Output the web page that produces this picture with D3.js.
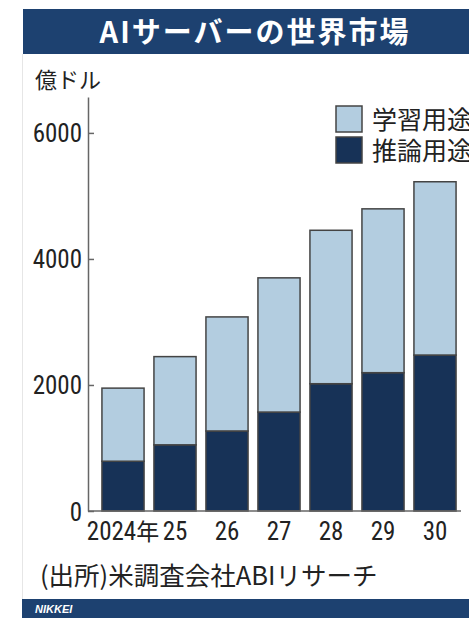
<!DOCTYPE html>
<html>
<head>
<meta charset="utf-8">
<script src="https://cdn.jsdelivr.net/npm/d3@7"></script>
<style>
  body { margin: 0; background: #fff; }
  svg { display: block; }
  .num { font-family: "Liberation Sans Narrow", "Roboto Condensed", "Liberation Sans", sans-serif; fill: #222; }
  .jp { font-family: "Noto Sans CJK JP", "Noto Sans", sans-serif; fill: #222; }
</style>
</head>
<body>
<svg class="chart" width="469" height="618"></svg>
<script>
const years = ["2024", "25", "26", "27", "28", "29", "30"]
const training = [1160, 1400, 1810, 2130, 2435, 2600, 2750]   // 学習用途
const inference = [790, 1050, 1270, 1570, 2020, 2195, 2475]   // 推論用途
const yTicks = [0, 2000, 4000, 6000]

const svg = d3.select("svg.chart")

// faint left border
svg.append("line")
  .attr("x1", 22.5).attr("x2", 22.5)
  .attr("y1", 54).attr("y2", 599)
  .attr("stroke", "#e6e6e6")

// title banner
svg.append("rect")
  .attr("x", 23).attr("y", 9)
  .attr("width", 446).attr("height", 45)
  .attr("fill", "#1d4170")

svg.append("text")
  .attr("class", "jp")
  .attr("x", 255).attr("y", 43)
  .attr("text-anchor", "middle")
  .style("font-size", "29px")
  .style("font-weight", "bold")
  .style("letter-spacing", "2px")
  .style("fill", "#fff")
  .text("AIサーバーの世界市場")

svg.append("text")
  .attr("class", "jp")
  .attr("x", 35).attr("y", 88)
  .style("font-size", "22px")
  .text("億ドル")

const x = d3.scaleBand()
  .domain(years)
  .range([97, 461])
  .paddingInner(0.19)
  .paddingOuter(0.095)

const y = d3.scaleLinear()
  .domain([0, 6570])
  .range([511, 97])

// y axis
const yAxis = svg.append("g")
  .attr("transform", "translate(88,0)")
  .call(d3.axisLeft(y).tickValues(yTicks).tickSizeInner(-6).tickSizeOuter(0).tickPadding(6).tickFormat(d3.format("d")))

yAxis.select(".domain").attr("stroke", "#666").attr("stroke-width", 1.5)
yAxis.selectAll(".tick line").attr("stroke", "#666").attr("stroke-width", 1.5)
yAxis.selectAll(".tick text")
  .attr("class", "num")
  .attr("dy", "0.36em")
  .style("font-size", "25px")

// stacked bars
const stackData = years.map((yr, i) => ({ year: yr, inference: inference[i], training: training[i] }))
const series = d3.stack().keys(["inference", "training"])(stackData)
const colors = { inference: "#173257", training: "#b3cde0" }

svg.append("g")
  .selectAll("g")
  .data(series)
  .enter()
  .append("g")
  .attr("fill", d => colors[d.key])
  .selectAll("rect")
  .data(d => d)
  .enter()
  .append("rect")
  .attr("x", d => x(d.data.year))
  .attr("y", d => y(d[1]))
  .attr("width", x.bandwidth())
  .attr("height", d => y(d[0]) - y(d[1]))
  .attr("stroke", "#444")
  .attr("stroke-width", 1.5)

// baseline
svg.append("line")
  .attr("x1", 88).attr("x2", 461)
  .attr("y1", y(0)).attr("y2", y(0))
  .attr("stroke", "#666").attr("stroke-width", 1.5)

// x labels
svg.append("g")
  .selectAll("text")
  .data(years)
  .enter()
  .append("text")
  .attr("class", "num")
  .attr("x", d => x(d) + x.bandwidth() / 2)
  .attr("y", 540)
  .attr("text-anchor", "middle")
  .style("font-size", "25px")
  .each(function (d, i) {
    const t = d3.select(this)
    t.append("tspan").text(d)
    if (i === 0) t.append("tspan").attr("class", "jp").style("font-size", "23px").text("年")
  })

// legend
const legendItems = [
  { label: "学習用途", color: colors.training },
  { label: "推論用途", color: colors.inference }
]
const legend = svg.append("g")
  .selectAll("g")
  .data(legendItems)
  .enter()
  .append("g")
  .attr("transform", (d, i) => `translate(336, ${106 + i * 31})`)

legend.append("rect")
  .attr("width", 26).attr("height", 26)
  .attr("fill", d => d.color)
  .attr("stroke", "#444").attr("stroke-width", 1.5)

legend.append("text")
  .attr("class", "jp")
  .attr("x", 36).attr("y", 23)
  .style("font-size", "25px")
  .text(d => d.label)

// source
svg.append("text")
  .attr("class", "jp")
  .attr("x", 40).attr("y", 585)
  .style("font-size", "25.5px")
  .text("(出所)米調査会社ABIリサーチ")

// bottom banner
svg.append("rect")
  .attr("x", 22).attr("y", 599)
  .attr("width", 447).attr("height", 19)
  .attr("fill", "#1d4170")

svg.append("text")
  .attr("x", 35).attr("y", 613)
  .style("font-family", "Liberation Sans, sans-serif")
  .style("font-size", "11px")
  .style("font-weight", "bold")
  .style("font-style", "italic")
  .style("fill", "#fff")
  .text("NIKKEI")
</script>
</body>
</html>
